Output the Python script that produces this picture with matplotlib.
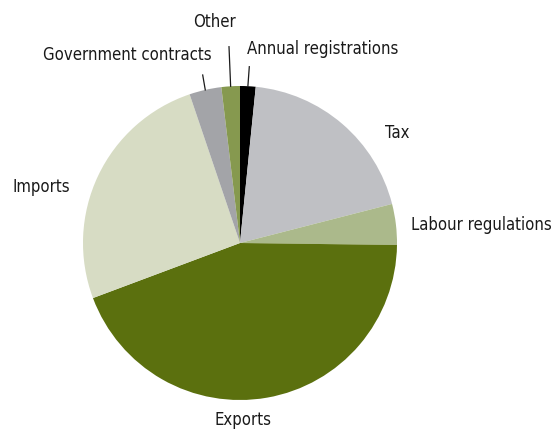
import numpy as np
import matplotlib.pyplot as plt

labels = ['Annual registrations', 'Tax', 'Labour regulations', 'Exports',
          'Imports', 'Government contracts', 'Other']
shares = [1.6, 19.4, 4.2, 44.1, 25.5, 3.3, 1.9]
colors = ['#000000', '#bfc0c4', '#abb98b', '#5b700e', '#d7dcc4', '#a3a4a8', '#86994f']

W, H = 558, 432
cx, cy, r = 240, H - 243, 157

fig = plt.figure(figsize=(W / 100, H / 100), dpi=100)
ax = fig.add_axes([0, 0, 1, 1])

wedges, _ = ax.pie(shares, colors=colors, startangle=90, counterclock=False,
                   center=(cx, cy), radius=r, frame=True,
                   wedgeprops=dict(linewidth=0))
ax.set_xlim(0, W)
ax.set_ylim(0, H)
ax.set_aspect('equal')
ax.axis('off')

font = dict(family='DejaVu Sans', stretch='condensed', fontsize=12, color='#1a1a1a')

# label positions (x, y from top), alignment, leader end point
label_pos = {
    'Annual registrations': ((247, 49), 'left', (249.3, 66.7)),
    'Tax': ((385, 133), 'left', None),
    'Labour regulations': ((411, 225), 'left', None),
    'Exports': ((243, 420), 'center', None),
    'Imports': ((12, 187), 'left', None),
    'Government contracts': ((212, 55), 'right', (202.7, 75)),
    'Other': ((214, 22), 'center', (229, 46.7)),
}

for w, lab in zip(wedges, labels):
    (tx, ty), ha, lead = label_pos[lab]
    ax.text(tx, H - ty, lab, ha=ha, va='center', **font)
    if lead is not None:
        mid = np.deg2rad((w.theta1 + w.theta2) / 2)
        rx, ry = cx + r * np.cos(mid), cy + r * np.sin(mid)
        ax.plot([rx, lead[0]], [ry, H - lead[1]], color='#1a1a1a', lw=0.9)

fig.savefig('out.png', dpi=100)
